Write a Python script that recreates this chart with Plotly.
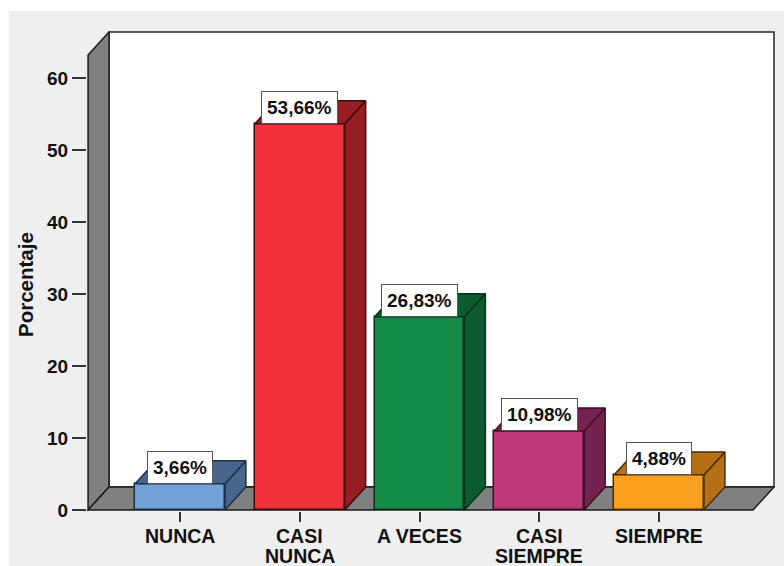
import plotly.graph_objects as go

# Survey responses (percentage of respondents)
categories = ["NUNCA", "CASI NUNCA", "A VECES", "CASI SIEMPRE", "SIEMPRE"]
label_lines = [["NUNCA"], ["CASI", "NUNCA"], ["A VECES"], ["CASI", "SIEMPRE"], ["SIEMPRE"]]
percentages = [3.66, 53.66, 26.83, 10.98, 4.88]
y_ticks = [0, 10, 20, 30, 40, 50, 60]

front_colors = ["#72a2d8", "#f0333b", "#148b47", "#bf3879", "#f9a01f"]
side_colors = ["#48668c", "#971f24", "#0b5b2e", "#742350", "#b56f15"]
edge_colors = ["#1d2f48", "#3a0a0c", "#05301a", "#3a0f28", "#4a2c05"]

FONT = "Liberation Sans, Arial, sans-serif"
BAR_W = 0.75          # bar width in category units
DX, DY = 0.175, 3.19  # 3D depth offset (category units, percent units)
WALL_TOP = 63.2       # height of the side wall on the front plane
X_LEFT, X_RIGHT = -0.768, 4.785  # front edges of floor

# plot geometry
ML, MR, MT, MB = 87, 9, 31, 55
W, H = 784, 566
pw, ph = W - ML - MR, H - MT - MB
x_range = [-0.777, -0.777 + pw / 119.75]
y_range = [-1 / 7.2, -1 / 7.2 + ph / 7.2]

fig = go.Figure()

shapes = []


def px_to_paper_x(px):
    return (px - ML) / pw


def px_to_paper_y(py):
    return (H - MB - py) / ph


# grey panel behind the chart
shapes.append(dict(type="rect", xref="paper", yref="paper", layer="below",
                   x0=px_to_paper_x(9), x1=px_to_paper_x(W + 5),
                   y0=px_to_paper_y(H + 5), y1=px_to_paper_y(11),
                   fillcolor="#efefef", line=dict(width=0)))


def poly_path(pts):
    return "M " + " L ".join(f"{x},{y}" for x, y in pts) + " Z"


# back wall
shapes.append(dict(type="path", xref="x", yref="y", layer="below",
                   path=poly_path([(X_LEFT + DX, DY), (X_RIGHT + DX, DY),
                                   (X_RIGHT + DX, WALL_TOP + DY), (X_LEFT + DX, WALL_TOP + DY)]),
                   fillcolor="white", line=dict(color="#2a2a2a", width=1.5)))
# left wall
shapes.append(dict(type="path", xref="x", yref="y", layer="below",
                   path=poly_path([(X_LEFT, 0), (X_LEFT + DX, DY),
                                   (X_LEFT + DX, WALL_TOP + DY), (X_LEFT, WALL_TOP)]),
                   fillcolor="#808080", line=dict(color="#1a1a1a", width=1.5)))
# floor
shapes.append(dict(type="path", xref="x", yref="y", layer="below",
                   path=poly_path([(X_LEFT, 0), (X_RIGHT, 0),
                                   (X_RIGHT + DX, DY), (X_LEFT + DX, DY)]),
                   fillcolor="#808080", line=dict(color="#1a1a1a", width=1.5)))

x_pos = list(range(len(categories)))

# front faces of the bars
fig.add_trace(go.Bar(
    x=x_pos, y=percentages, width=BAR_W,
    marker=dict(color=front_colors, line=dict(color=edge_colors, width=1.5)),
    hoverinfo="skip", showlegend=False,
))

# side and top faces of the bars
for i, v in enumerate(percentages):
    x0, x1 = i - BAR_W / 2, i + BAR_W / 2
    side_x = [x1, x1 + DX, x1 + DX, x1, x1]
    side_y = [0, DY, v + DY, v, 0]
    top_x = [x0, x1, x1 + DX, x0 + DX, x0]
    top_y = [v, v, v + DY, v + DY, v]
    for xs, ys in ((side_x, side_y), (top_x, top_y)):
        fig.add_trace(go.Scatter(
            x=xs, y=ys, mode="lines", fill="toself",
            fillcolor=side_colors[i], line=dict(color=edge_colors[i], width=1.5),
            hoverinfo="skip", showlegend=False,
        ))

annotations = []

# value labels
for i, v in enumerate(percentages):
    annotations.append(dict(
        x=i, y=v, xref="x", yref="y", xanchor="center", yanchor="bottom",
        text="<b>" + f"{v:.2f}".replace(".", ",") + "%</b>",
        showarrow=False, bgcolor="white", bordercolor="#555555", borderwidth=1,
        borderpad=5, font=dict(family=FONT, size=19, color="#111111"),
    ))

# category labels under the ticks (tight line spacing)
for i, lines in enumerate(label_lines):
    for j, line in enumerate(lines):
        annotations.append(dict(
            x=i, y=px_to_paper_y(536 + 19.5 * j), xref="x", yref="paper",
            xanchor="center", yanchor="middle", text=f"<b>{line}</b>",
            showarrow=False, font=dict(family=FONT, size=19.5, color="#111111"),
        ))

annotations.append(dict(
    x=px_to_paper_x(25), y=px_to_paper_y(285), xref="paper", yref="paper",
    xanchor="center", yanchor="middle",
    text="<b>Porcentaje</b>", textangle=-90, showarrow=False,
    font=dict(family=FONT, size=20.5, color="#111111"),
))

fig.update_layout(
    template="none",
    width=W, height=H,
    margin=dict(l=ML, r=MR, t=MT, b=MB, pad=0, autoexpand=False),
    paper_bgcolor="white", plot_bgcolor="rgba(0,0,0,0)",
    shapes=shapes, annotations=annotations,
    bargap=0,
    xaxis=dict(
        range=x_range, tickvals=x_pos, automargin=False, showticklabels=False,
        ticks="outside", ticklen=10, tickwidth=2, tickcolor="#333333",
        showgrid=False, zeroline=False, showline=False,
    ),
    yaxis=dict(
        range=y_range, tickvals=y_ticks, automargin=False,
        ticktext=[f"<b>{t}</b>" for t in y_ticks],
        ticks="outside", ticklen=14, tickwidth=2, tickcolor="#333333",
        showgrid=False, zeroline=False, showline=False,
        tickfont=dict(family=FONT, size=19, color="#111111"),
    ),
)

fig.write_html("out.html")
